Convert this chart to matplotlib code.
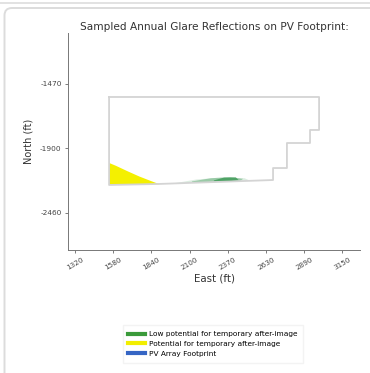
import numpy as np
import matplotlib
matplotlib.use('Agg')
import matplotlib.pyplot as plt
from matplotlib.patches import Polygon, FancyBboxPatch
from matplotlib.lines import Line2D

# footprint outline (East, North in ft)
footprint_x = [1553, 2990, 2990, 2928, 2928, 2770, 2770, 2675, 2675, 1902, 1553, 1553]
footprint_y = [-1570, -1570, -1823, -1823, -1923, -1923, -2115, -2115, -2207, -2237, -2245, -1570]

# yellow glare zone (potential for after-image)
yellow_x = [1553, 1600, 1680, 1760, 1840, 1900, 1553]
yellow_y = [-2076, -2098, -2140, -2180, -2215, -2240, -2245]

# green glare zone, three layers from faint to dark
green_layers = [
    ([1990, 2150, 2320, 2480, 2520, 2300, 2100, 1990], [-2234, -2203, -2188, -2193, -2213, -2222, -2230, -2234], 0.15),
    ([2120, 2250, 2380, 2470, 2450, 2300, 2120], [-2218, -2193, -2186, -2198, -2214, -2220, -2226], 0.35),
    ([2270, 2340, 2420, 2440, 2380, 2270], [-2210, -2188, -2186, -2208, -2216, -2218], 0.6),
]

xtick_pos = [1320, 1581.4, 1842.9, 2104.3, 2365.7, 2627.1, 2888.6, 3150]
xtick_labels = ['1320', '1580', '1840', '2100', '2370', '2630', '2890', '3150']
ytick_pos = [-1470, -1965, -2460]
ytick_labels = ['-1470', '-1900', '-2460']

legend_labels = ['Low potential for temporary after-image',
                 'Potential for temporary after-image',
                 'PV Array Footprint']
legend_colors = ['#3a9a3a', '#f2ee00', '#3565c4']

fig = plt.figure(figsize=(3.7, 3.73), dpi=100)

# screenshot card frame
fig.add_artist(Line2D([0, 1], [1 - 2.5/373, 1 - 2.5/373], color='#dddddd', lw=1.2, transform=fig.transFigure))
fig.add_artist(FancyBboxPatch((4.5/370, -0.2), 1.2, 1.2 - 8/373, boxstyle='round,pad=0,rounding_size=0.02',
                              transform=fig.transFigure, fc='none', ec='#dcdcdc', lw=1.4))

ax = fig.add_axes([68/370, 1 - 250/373, 292/370, 217/373])

ax.add_patch(Polygon(list(zip(yellow_x, yellow_y)), closed=True, fc='#f4f000', ec='none'))
for gx, gy, a in green_layers:
    ax.add_patch(Polygon(list(zip(gx, gy)), closed=True, fc='#1e8a3c', ec='none', alpha=a))
ax.plot(footprint_x, footprint_y, color='#d4d4d4', lw=1.3)

ax.set_xlim(1272, 3270)
ax.set_ylim(-2744, -1079)
ax.set_xticks(xtick_pos)
ax.set_xticklabels(xtick_labels, rotation=30, fontsize=5.2, color='#444444')
ax.set_yticks(ytick_pos)
ax.set_yticklabels(ytick_labels, fontsize=5.3, color='#444444')
ax.tick_params(length=2.5, width=0.6, colors='#666666', pad=2)
ax.tick_params(labelcolor='#444444')
for s in ['top', 'right']:
    ax.spines[s].set_visible(False)
for s in ['left', 'bottom']:
    ax.spines[s].set_color('#777777')
    ax.spines[s].set_linewidth(0.7)

ax.set_title('Sampled Annual Glare Reflections on PV Footprint:', fontsize=7.6, color='#333333', pad=2)
ax.set_xlabel('East (ft)', fontsize=7.4, color='#333333', labelpad=2)
ax.set_ylabel('North (ft)', fontsize=7, color='#333333', labelpad=5)

handles = [Line2D([], [], color=c, lw=3) for c in legend_colors]
fig.legend(handles, legend_labels, loc='center', bbox_to_anchor=(213/370, 1 - 344/373),
           fontsize=5.3, frameon=True, edgecolor='#f0f0f0', fancybox=False,
           handlelength=2.2, handletextpad=0.6, labelspacing=0.5, borderpad=0.8)

fig.savefig('out.png', dpi=100, facecolor='white')
